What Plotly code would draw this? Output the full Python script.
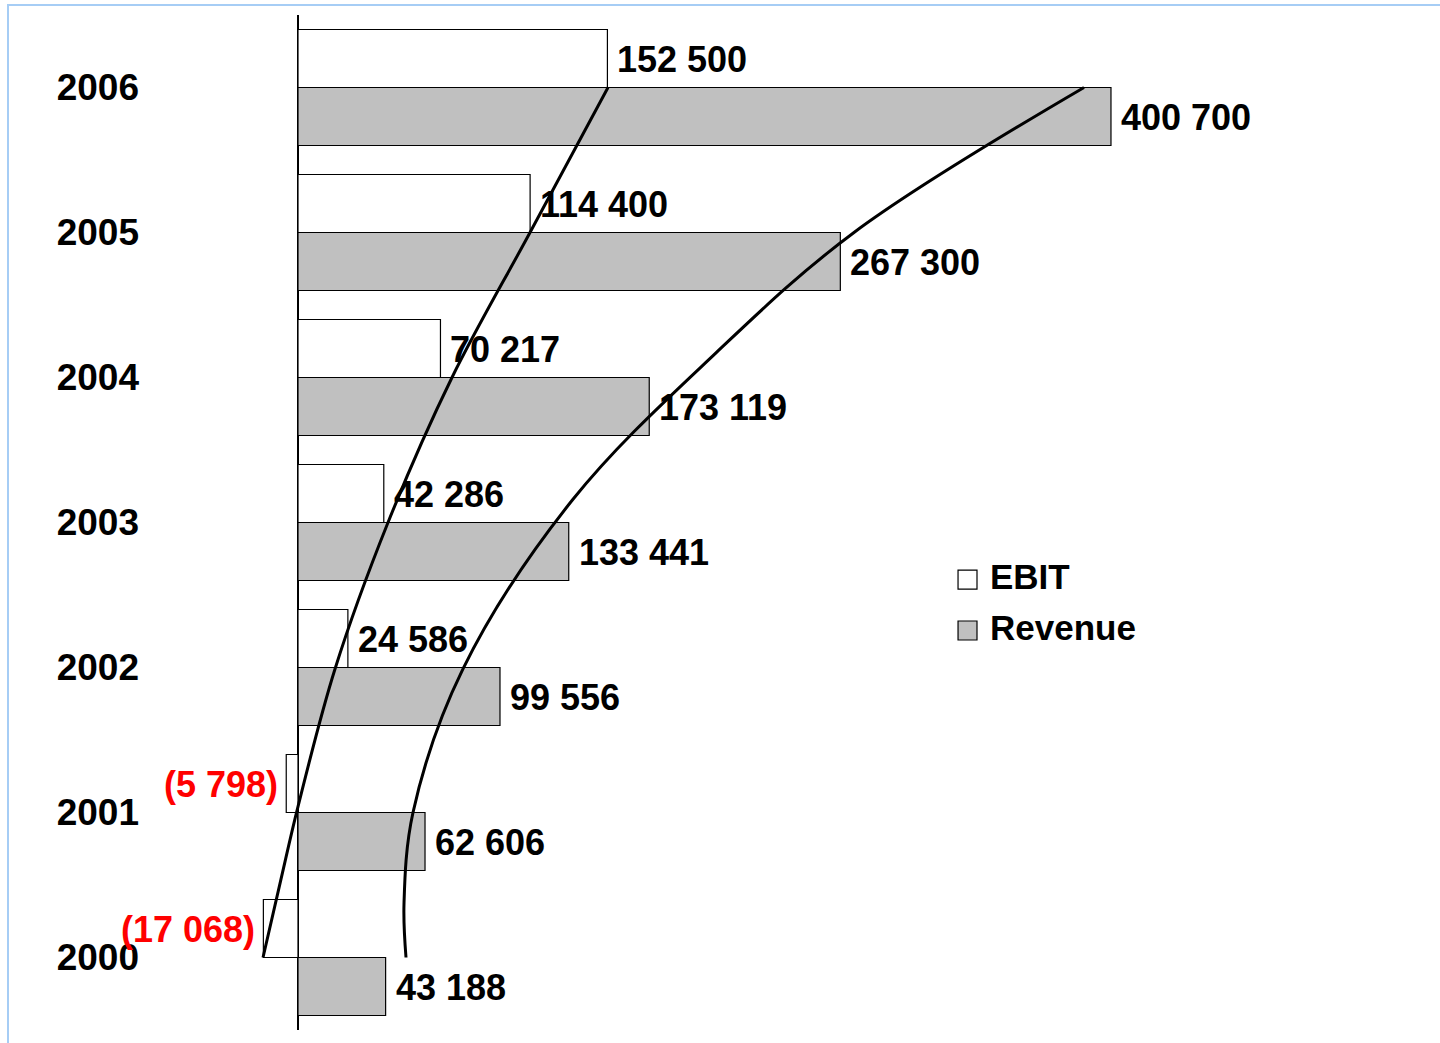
import plotly.graph_objects as go

# Financial results, 2000-2006
years = [2000, 2001, 2002, 2003, 2004, 2005, 2006]
ebit = [-17068, -5798, 24586, 42286, 70217, 114400, 152500]
revenue = [43188, 62606, 99556, 133441, 173119, 267300, 400700]

# Freehand trend curves drawn across the bars (value, year)
ebit_trend_x = [-17250, -8380, 0, 18240, 44360, 75900, 114350, 152790]
ebit_trend_y = [2000.0, 2000.54, 2001.04, 2001.99, 2003.0, 2004.0, 2005.0, 2006.0]
revenue_trend_x = [53230, 52245, 56680, 81320, 135540, 206020, 274040, 387400]
revenue_trend_y = [2000.0, 2000.37, 2001.0, 2001.99, 2003.16, 2004.17, 2005.0, 2006.0]

FONT = "Liberation Sans, Arial, sans-serif"
FS = 36
BAR_W = 0.4


def fmt(v):
    s = f"{abs(v):,}".replace(",", " ")
    return f"({s})" if v < 0 else s


fig = go.Figure()

fig.add_trace(go.Bar(
    name="EBIT", orientation="h", x=ebit, y=years,
    width=BAR_W, offset=0,
    marker=dict(color="white", line=dict(color="black", width=1.2)),
    showlegend=False, hoverinfo="x+name",
))
fig.add_trace(go.Bar(
    name="Revenue", orientation="h", x=revenue, y=years,
    width=BAR_W, offset=-BAR_W,
    marker=dict(color="#c0c0c0", line=dict(color="black", width=1.2)),
    showlegend=False, hoverinfo="x+name",
))

for tx, ty in ((ebit_trend_x, ebit_trend_y), (revenue_trend_x, revenue_trend_y)):
    fig.add_trace(go.Scatter(
        x=tx, y=ty, mode="lines",
        line=dict(color="black", width=3, shape="spline", smoothing=1.0),
        showlegend=False, hoverinfo="skip",
    ))

annotations = []
# value labels next to each bar end
for yr, v in zip(years, ebit):
    neg = v < 0
    annotations.append(dict(
        x=v, y=yr + BAR_W / 2, xref="x", yref="y", text=fmt(v), showarrow=False,
        xanchor="right" if neg else "left", xshift=-6 if neg else 8, yshift=-1,
        font=dict(family=FONT, size=FS, color="#ff0000" if neg else "black", weight="bold"),
    ))
for yr, v in zip(years, revenue):
    annotations.append(dict(
        x=v, y=yr - BAR_W / 2, xref="x", yref="y", text=fmt(v), showarrow=False,
        xanchor="left", xshift=8, yshift=-1,
        font=dict(family=FONT, size=FS, color="black", weight="bold"),
    ))

# legend block
legend_items = [("EBIT", "white", 0.4437), ("Revenue", "#c0c0c0", 0.3936)]
shapes = []
for label, color, yc in legend_items:
    half = 9.5 / 1015
    shapes.append(dict(
        type="rect", xref="paper", yref="paper",
        x0=0.6317, x1=0.6475, y0=yc - half, y1=yc + half,
        fillcolor=color, line=dict(color="black", width=1.2),
    ))
    annotations.append(dict(
        x=0.6567, y=yc + 3 / 1015, xref="paper", yref="paper", text=label, showarrow=False,
        xanchor="left", yanchor="middle",
        font=dict(family=FONT, size=35, color="black", weight="bold"),
    ))

# outer frame
shapes.append(dict(
    type="rect", xref="paper", yref="paper",
    x0=-0.16, x1=1.05, y0=-0.05, y1=1.0099,
    line=dict(color="#a6cdf5", width=2), fillcolor="rgba(0,0,0,0)", layer="below",
))

fig.update_layout(
    width=1440, height=1043,
    margin=dict(l=200, r=40, t=15, b=13),
    paper_bgcolor="white", plot_bgcolor="white",
    barmode="overlay",
    showlegend=False,
    annotations=annotations,
    shapes=shapes,
    font=dict(family=FONT, size=FS, color="black"),
    xaxis=dict(
        range=[-48302, 543150], showgrid=False, showticklabels=False, ticks="",
        showline=False, zeroline=True, zerolinecolor="black", zerolinewidth=1.6,
    ),
    yaxis=dict(
        range=[1999.5, 2006.5], tickvals=years, ticktext=[str(y) for y in years],
        showgrid=False, zeroline=False, showline=False, ticks="",
        ticklabelstandoff=60,
        tickfont=dict(family=FONT, size=37, color="black", weight="bold"),
    ),
)

fig.write_html("out.html")
